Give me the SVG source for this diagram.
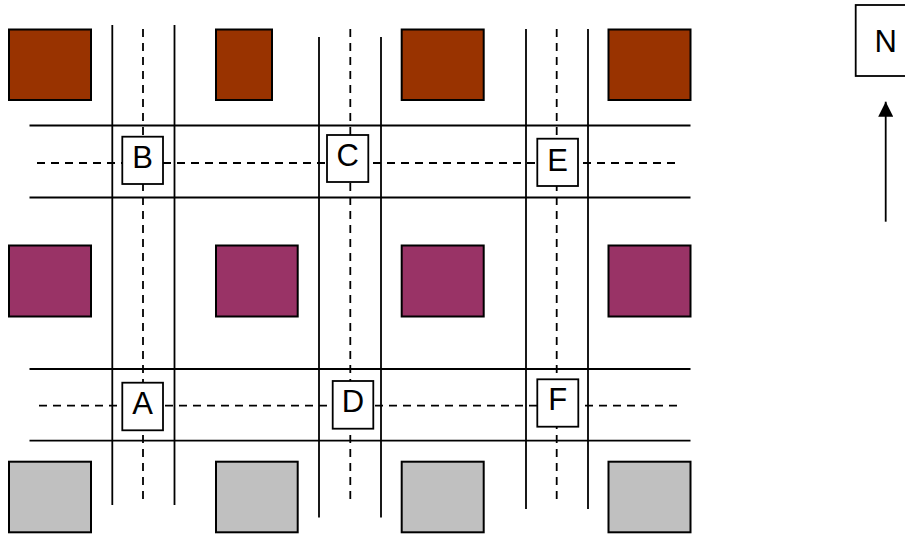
<svg xmlns="http://www.w3.org/2000/svg" width="905" height="534" viewBox="0 0 905 534">
<defs>
<style>
.bg{fill:#ffffff}
.brown{fill:#993300;stroke:#000;stroke-width:2}
.purple{fill:#993366;stroke:#000;stroke-width:2}
.grey{fill:#C0C0C0;stroke:#000;stroke-width:2}
.road{stroke:#000;stroke-width:1.8;fill:none}
.dash{stroke:#000;stroke-width:1.8;fill:none;stroke-dasharray:8,6}
.box{fill:#fff;stroke:#000;stroke-width:1.8}
.lbl{font-family:"Liberation Sans",Arial,sans-serif;font-size:31px;fill:#000;text-anchor:middle}
</style>
<marker id="arr" markerWidth="15" markerHeight="15" viewBox="0 0 15 15" refX="15" refY="7.5" orient="auto" markerUnits="userSpaceOnUse">
<path d="M0,0 L15,7.5 L0,15 Z" fill="#000"/>
</marker>
</defs>
<rect class="bg" x="0" y="0" width="905" height="534"/>

<g id="blocks">
<rect class="brown" x="9" y="29.5" width="82" height="70.5"/>
<rect class="brown" x="216" y="29.5" width="56" height="70.5"/>
<rect class="brown" x="401.7" y="29.5" width="82" height="70.5"/>
<rect class="brown" x="608.5" y="29.5" width="82" height="70.5"/>
<rect class="purple" x="9" y="245.5" width="82" height="71"/>
<rect class="purple" x="216" y="245.5" width="81.7" height="71"/>
<rect class="purple" x="401.7" y="245.5" width="82" height="71"/>
<rect class="purple" x="608.5" y="245.5" width="82" height="71"/>
<rect class="grey" x="9" y="461.7" width="82" height="70.6"/>
<rect class="grey" x="216" y="461.7" width="81.7" height="70.6"/>
<rect class="grey" x="401.7" y="461.7" width="82" height="70.6"/>
<rect class="grey" x="608.5" y="461.7" width="82" height="70.6"/>
</g>

<g id="connectors">
<line class="road" x1="29.5" y1="125.5" x2="690.5" y2="125.5"/>
<line class="road" x1="29.5" y1="197.5" x2="690.5" y2="197.5"/>
<line class="road" x1="29.5" y1="369" x2="690.5" y2="369"/>
<line class="road" x1="29.5" y1="440.7" x2="690.5" y2="440.7"/>
<line class="road" x1="112.3" y1="25" x2="112.3" y2="505"/>
<line class="road" x1="174.5" y1="25" x2="174.5" y2="505"/>
<line class="road" x1="319" y1="37" x2="319" y2="517.5"/>
<line class="road" x1="381" y1="37" x2="381" y2="517.5"/>
<line class="road" x1="526" y1="29" x2="526" y2="509"/>
<line class="road" x1="588" y1="29" x2="588" y2="509"/>
<line class="dash" x1="37" y1="163" x2="678" y2="163"/>
<line class="dash" x1="39" y1="405.7" x2="680" y2="405.7"/>
<line class="dash" x1="143" y1="29" x2="143" y2="503"/>
<line class="dash" x1="350.3" y1="29" x2="350.3" y2="503"/>
<line class="dash" x1="556.7" y1="29" x2="556.7" y2="503"/>
<line class="road" x1="885.7" y1="221.7" x2="885.7" y2="101.7" stroke-width="2" marker-end="url(#arr)"/>
</g>

<g id="node-B"><rect class="box" x="122.3" y="136.7" width="40.7" height="47.3"/><text class="lbl" x="142.7" y="168.3">B</text></g>
<g id="node-C"><rect class="box" x="327" y="135" width="41.3" height="47"/><text class="lbl" x="347.7" y="166">C</text></g>
<g id="node-E"><rect class="box" x="537.3" y="138.7" width="40.7" height="47.3"/><text class="lbl" x="557.7" y="170.7">E</text></g>
<g id="node-A"><rect class="box" x="122.3" y="382.7" width="40.7" height="47.6"/><text class="lbl" x="142.7" y="414">A</text></g>
<g id="node-D"><rect class="box" x="332.7" y="381" width="40.6" height="47.7"/><text class="lbl" x="353" y="411.7">D</text></g>
<g id="node-F"><rect class="box" x="537.3" y="379.3" width="41" height="47.4"/><text class="lbl" x="557.8" y="410">F</text></g>
<g id="node-N"><rect class="box" x="855.7" y="5" width="60" height="71" stroke-width="2"/><text class="lbl" x="885.7" y="51.7">N</text></g>
</svg>
